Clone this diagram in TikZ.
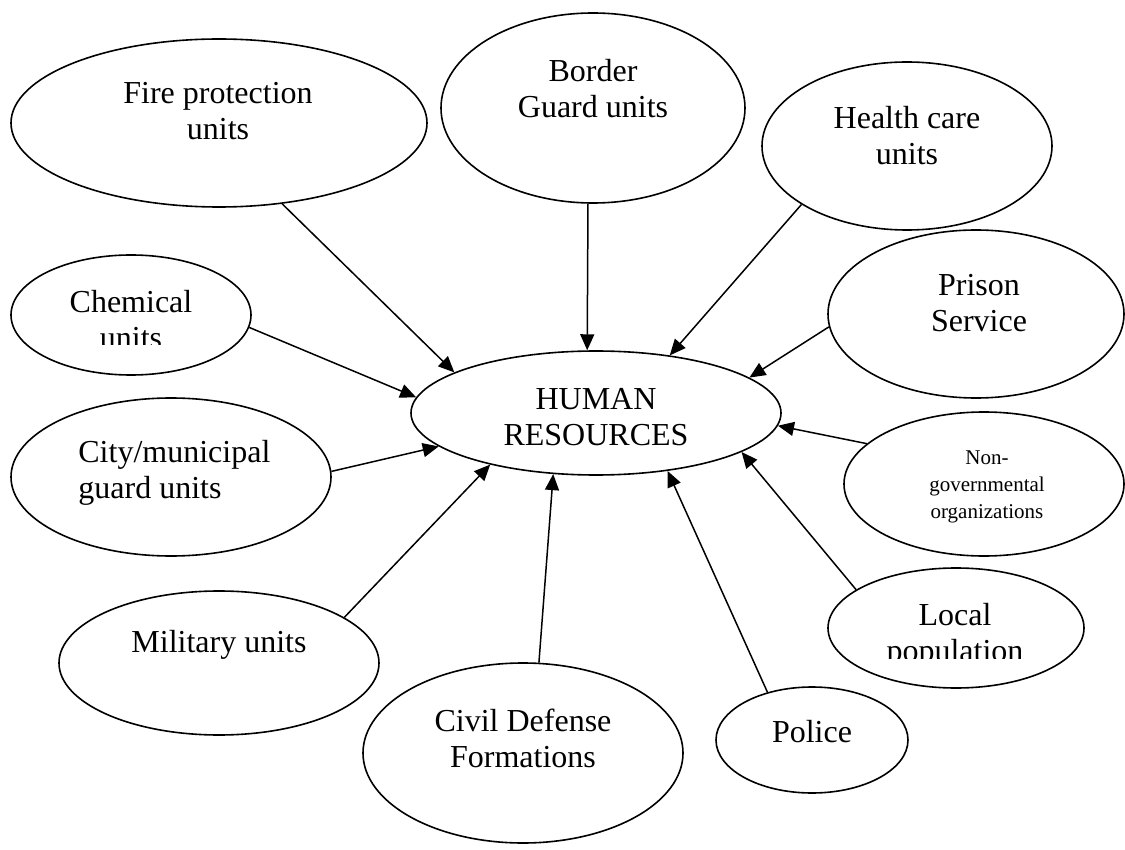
\documentclass[tikz,border=0pt]{standalone}
\usepackage{fontspec}
\setmainfont{Liberation Serif}
\usetikzlibrary{shapes.geometric,arrows.meta}
\begin{document}
\begin{tikzpicture}[x=0.5pt, y=-0.5pt,
    myunit/.style={draw, ellipse, line width=0.8pt, inner sep=0pt},
    mylabel/.style={align=center, inner sep=0pt, anchor=base, font=\fontsize{16}{18}\selectfont},
    myarrow/.style={-{Triangle[length=8pt,width=7pt]}, line width=0.75pt}]
    \useasboundingbox (0,0) rectangle (1125,850);
    % the ellipses
    \foreach \n/\x/\y/\w/\h in {fire/219/123/208/84, border/593/108/152/95, health/907/146/145/84,
        chem/131/315/120/60, prison/976/314/148/84, hr/596/413/185/62, city/171/477/160/79,
        ngo/984/484/140/72, military/219/663/160/72, civil/523/753/160/90,
        police/812/740/96/53, local/956/628/128/60}{
      \node[myunit, minimum width=\w pt, minimum height=\h pt] (\n) at (\x,\y) {};
    }
    % the texts (base = last line)
    \node[mylabel] (fire-t) at (218,140) {Fire protection\\units};
    \node[mylabel] (border-t) at (593,118) {Border\\Guard units};
    \node[mylabel] (health-t) at (907,165) {Health care\\units};
    \node[mylabel] (prison-t) at (979,332) {Prison\\Service};
    \node[mylabel] (hr-t) at (596,445) {HUMAN\\RESOURCES};
    \node[mylabel, align=left, anchor=base west] (city-t) at (78,498) {City/municipal\\guard units};
    \node[mylabel, font=\fontsize{10.5}{13.5}\selectfont] (ngo-t) at (987,518) {Non-\\governmental\\organizations};
    \node[mylabel] (military-t) at (219,652) {Military units};
    \node[mylabel] (civil-t) at (523,767) {Civil Defense\\Formations};
    \node[mylabel] (police-t) at (812,742) {Police};
    \begin{scope}
      \clip (0,0) rectangle (1125,345);
      \node[mylabel] (chem-t) at (131,349) {Chemical\\units};
    \end{scope}
    \begin{scope}
      \clip (0,0) rectangle (1125,658);
      \node[mylabel] (local-t) at (955,661) {Local\\population};
    \end{scope}
    % the arrows
    \foreach \src/\a/\b in {fire/-52/164, border/-93.5/98, health/-151/38, prison/185/13,
        chem/-6/175, ngo/161/-4, city/2.5/-168, military/20/-154, civil/80/-125,
        police/133/-39, local/159/-15.5}{
      \draw[myarrow] (\src.\a) -- (hr.\b);
    }
\end{tikzpicture}
\end{document}
